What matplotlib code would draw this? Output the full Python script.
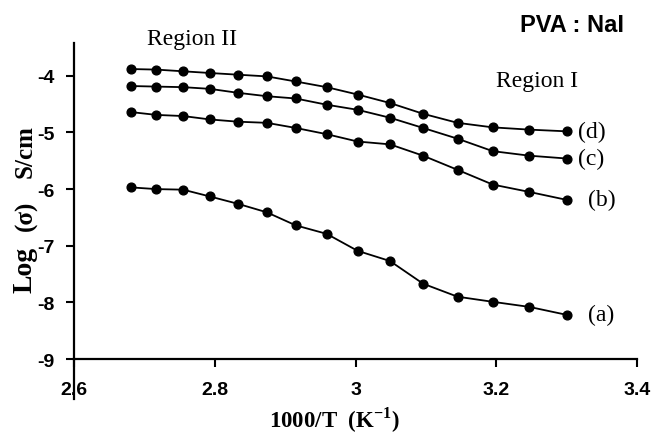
import matplotlib
matplotlib.use("Agg")
import matplotlib.pyplot as plt

plt.rcParams["axes.unicode_minus"] = False
plt.rcParams["mathtext.fontset"] = "custom"
plt.rcParams["mathtext.rm"] = "Liberation Serif"
plt.rcParams["mathtext.bf"] = "Liberation Serif:bold"

# 1000/T (K^-1), same temperatures for every sample
inv_T = [2.681, 2.717, 2.755, 2.793, 2.833, 2.874, 2.915, 2.959,
         3.003, 3.049, 3.096, 3.145, 3.195, 3.247, 3.300]

# log(sigma) for each PVA:NaI composition
log_a = [-5.97, -6.00, -6.01, -6.13, -6.26, -6.41, -6.64, -6.79,
         -7.09, -7.27, -7.67, -7.90, -7.99, -8.08, -8.22]
log_b = [-4.64, -4.69, -4.71, -4.77, -4.81, -4.83, -4.92, -5.03,
         -5.16, -5.21, -5.41, -5.66, -5.92, -6.05, -6.19]
log_c = [-4.18, -4.19, -4.20, -4.23, -4.30, -4.36, -4.40, -4.51,
         -4.60, -4.74, -4.92, -5.11, -5.33, -5.41, -5.46]
log_d = [-3.88, -3.89, -3.92, -3.95, -3.98, -4.01, -4.10, -4.20,
         -4.33, -4.48, -4.67, -4.83, -4.91, -4.95, -4.98]

series = [("(a)", log_a), ("(b)", log_b), ("(c)", log_c), ("(d)", log_d)]
label_dx = {"(a)": 0.030, "(b)": 0.030, "(c)": 0.016, "(d)": 0.016}

xticks = [2.6, 2.8, 3.0, 3.2, 3.4]
xticklabels = ["2.6", "2.8", "3", "3.2", "3.4"]
yticks = [-9, -8, -7, -6, -5, -4]
yticklabels = ["-9", "-8", "-7", "-6", "-5", "-4"]

fig = plt.figure(figsize=(6.51, 4.35), dpi=100)
ax = fig.add_axes([0.1137, 0.1724, 0.8648, 0.7265])

for name, vals in series:
    ax.plot(inv_T, vals, color="black", lw=1.3, marker="o", ms=6.3,
            mfc="black", mec="black", clip_on=False)
    ax.text(inv_T[-1] + label_dx[name], vals[-1], name, fontsize=17,
            family="Liberation Serif", va="center", ha="left")

ax.set_xlim(2.6, 3.4)
ax.set_ylim(-9, -3.42)
ax.set_xticks(xticks)
ax.set_xticklabels(xticklabels)
ax.set_yticks(yticks)
ax.set_yticklabels(yticklabels)
for lab in ax.get_xticklabels() + ax.get_yticklabels():
    lab.set_family("Liberation Sans")
    lab.set_fontweight("bold")
    lab.set_fontsize(14)
ax.tick_params(axis="x", direction="out", length=6, width=1.5, pad=10)
ax.tick_params(axis="y", direction="out", length=6, width=1.5, pad=8)

ax.spines["top"].set_visible(False)
ax.spines["right"].set_visible(False)
ax.spines["left"].set_linewidth(1.6)
ax.spines["bottom"].set_linewidth(1.6)
# y axis line runs on below the x axis in the original
ax.axvline(2.6, ymin=-0.127, ymax=0, color="black", lw=1.6, clip_on=False)

ax.set_xlabel("1000/T  (K$^{\\mathbf{-1}}$)", family="Liberation Serif",
              fontweight="bold", fontsize=16.5)
ax.xaxis.set_label_coords(0.463, -0.143)

# y label: "Log" is drawn wider than the rest in the original
ylab_parts = [("Log", 20, 270), ("(σ)", 18, 216), ("S/cm", 18, 152)]
for txt, size, ypix in ylab_parts:
    fig.text(32 / 651, 1 - ypix / 435, txt, family="Liberation Serif",
             fontweight="bold", fontsize=size, rotation=90,
             rotation_mode="anchor", ha="center", va="baseline")

fig.text(192 / 651, 1 - 40 / 435, "Region II", family="Liberation Serif",
         fontsize=17, ha="center", va="center")
fig.text(537 / 651, 1 - 82 / 435, "Region I", family="Liberation Serif",
         fontsize=17, ha="center", va="center")
fig.text(572 / 651, 1 - 25 / 435, "PVA : NaI", family="Liberation Sans",
         fontweight="bold", fontsize=17, ha="center", va="center")

fig.savefig("out.png", dpi=100)
